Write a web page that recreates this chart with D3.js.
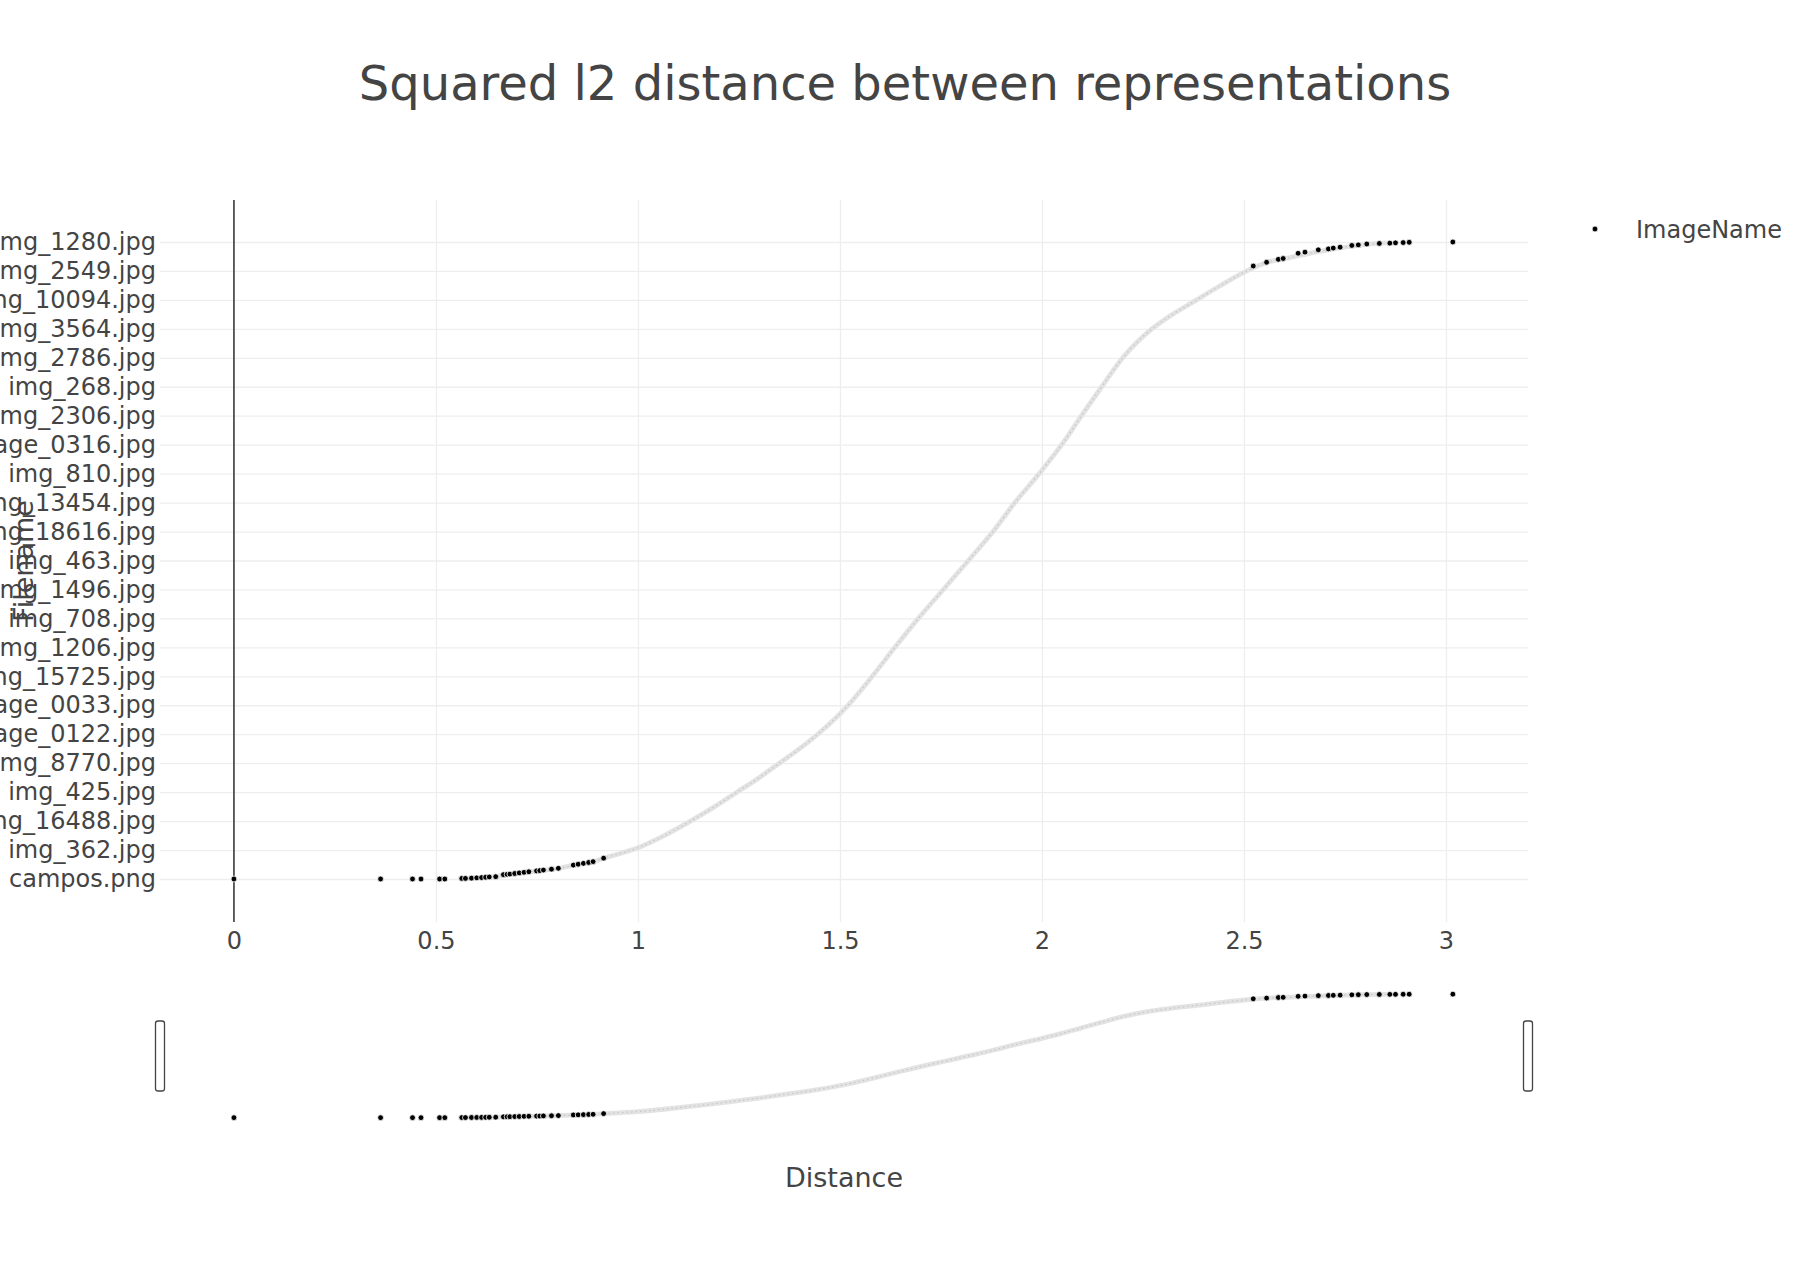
<!DOCTYPE html>
<html>
<head>
<meta charset="utf-8">
<script src="https://cdn.jsdelivr.net/npm/d3@7"></script>
<style>
  body { margin: 0; background: #fff; }
  text { font-family: "DejaVu Sans", Verdana, sans-serif; fill: #444; }
</style>
</head>
<body>
<div id="chart"></div>
<script>
// chart texts
var chartTitle = "Squared l2 distance between representations";
var xTitle = "Distance";
var yTitle = "Filename";
var legendName = "ImageName";

// y tick labels, bottom to top (one label every few hundred categories)
var yLabels = ["campos.png", "img_362.jpg", "img_16488.jpg", "img_425.jpg", "img_8770.jpg",
  "image_0122.jpg", "image_0033.jpg", "img_15725.jpg", "img_1206.jpg", "img_708.jpg",
  "img_1496.jpg", "img_463.jpg", "img_18616.jpg", "img_13454.jpg", "img_810.jpg",
  "image_0316.jpg", "img_2306.jpg", "img_268.jpg", "img_2786.jpg", "img_3564.jpg",
  "img_10094.jpg", "img_2549.jpg", "img_1280.jpg"];
var xTicks = [0, 0.5, 1, 1.5, 2, 2.5, 3];

// dense part of the sorted distances: distance and rank (in tick-label units)
var bandDist = [0.56, 0.65, 0.70, 0.75, 0.80, 0.85, 0.89, 0.92, 0.96, 1.00, 1.065, 1.13, 1.19,
  1.245, 1.30, 1.35, 1.40, 1.445, 1.52, 1.58, 1.636, 1.694, 1.756, 1.818, 1.879, 1.933, 1.993,
  2.049, 2.098, 2.148, 2.20, 2.272, 2.31, 2.383, 2.44, 2.507, 2.556, 2.614, 2.68, 2.738,
  2.804, 2.85];
var bandRank = [0.02, 0.09, 0.19, 0.28, 0.36, 0.50, 0.60, 0.74, 0.90, 1.08, 1.5, 2.0, 2.5,
  3, 3.5, 4, 4.5, 5, 6, 7, 8, 9, 10, 11, 12, 13, 14,
  15, 16, 17, 18, 19, 19.38, 20, 20.48, 21, 21.29, 21.46, 21.66, 21.8,
  21.92, 21.97];

// isolated points at the low end
var lowDist = [0, 0.363, 0.442, 0.463, 0.509, 0.522, 0.564, 0.573, 0.588, 0.601, 0.613,
  0.623, 0.632, 0.648, 0.667, 0.676, 0.683, 0.695, 0.706, 0.718, 0.73, 0.749, 0.757,
  0.766, 0.786, 0.803, 0.84, 0.852, 0.865, 0.878, 0.889, 0.915];
var lowRank = [0, 0, 0, 0, 0, 0, 0.02, 0.02, 0.03, 0.04, 0.05,
  0.06, 0.07, 0.08, 0.15, 0.16, 0.17, 0.19, 0.21, 0.23, 0.25, 0.28, 0.29,
  0.31, 0.34, 0.37, 0.48, 0.51, 0.54, 0.57, 0.60, 0.72];

// isolated points at the high end
var highDist = [2.523, 2.556, 2.585, 2.597, 2.634, 2.651, 2.684, 2.709, 2.721, 2.738,
  2.767, 2.783, 2.804, 2.835, 2.861, 2.875, 2.894, 2.909, 3.017];
var highRank = [21.17, 21.30, 21.40, 21.43, 21.61, 21.65, 21.73, 21.76, 21.79, 21.82,
  21.88, 21.90, 21.93, 21.95, 21.96, 21.97, 21.98, 21.99, 22.0];

var W = 1810, H = 1284;
var plot = { left: 160, right: 1528, top: 200, bottom: 922 };
var slider = { top: 986, bottom: 1126 };

var svg = d3.select("#chart").append("svg")
  .attr("width", W).attr("height", H);

var x = d3.scaleLinear().domain([-0.183, 3.203]).range([plot.left, plot.right]);
var y = d3.scaleLinear().domain([-1.485, 23.45]).range([plot.bottom, plot.top]);
var ys = d3.scaleLinear().domain([-1.485, 23.45]).range([slider.bottom, slider.top]);

var band = bandDist.map(function(d, i) { return { d: d, u: bandRank[i] }; });
var low = lowDist.map(function(d, i) { return { d: d, u: lowRank[i] }; });
var high = highDist.map(function(d, i) { return { d: d, u: highRank[i] }; });
var dots = low.concat(high);

// clip paths
var defs = svg.append("defs");
defs.append("clipPath").attr("id", "clipMain").append("rect")
  .attr("x", plot.left).attr("y", plot.top)
  .attr("width", plot.right - plot.left).attr("height", plot.bottom - plot.top);
defs.append("clipPath").attr("id", "clipSlider").append("rect")
  .attr("x", plot.left).attr("y", slider.top)
  .attr("width", plot.right - plot.left).attr("height", slider.bottom - slider.top);

// grid lines
svg.append("g")
  .attr("transform", "translate(0," + plot.bottom + ")")
  .call(d3.axisBottom(x).tickValues(xTicks.filter(function(t) { return t !== 0; }))
    .tickSize(-(plot.bottom - plot.top)).tickFormat(""))
  .call(function(g) {
    g.select(".domain").remove();
    g.selectAll("line").attr("stroke", "#eee").attr("stroke-width", 1.3);
  });

svg.append("g")
  .attr("transform", "translate(" + plot.left + ",0)")
  .call(d3.axisLeft(y).tickValues(d3.range(yLabels.length))
    .tickSize(-(plot.right - plot.left)).tickFormat(""))
  .call(function(g) {
    g.select(".domain").remove();
    g.selectAll("line").attr("stroke", "#eee").attr("stroke-width", 1.3);
  });

// zero line
svg.append("line")
  .attr("x1", x(0)).attr("x2", x(0))
  .attr("y1", plot.top).attr("y2", plot.bottom)
  .attr("stroke", "#444").attr("stroke-width", 1.7);

// tick labels
svg.append("g")
  .attr("transform", "translate(0," + plot.bottom + ")")
  .call(d3.axisBottom(x).tickValues(xTicks).tickSize(0).tickPadding(9.5)
    .tickFormat(function(d) { return String(d); }))
  .call(function(g) {
    g.select(".domain").remove();
    g.selectAll("text").style("font-size", "24px")
      .style("font-family", "DejaVu Sans").attr("fill", "#444");
  });

svg.append("g")
  .attr("transform", "translate(" + plot.left + ",0)")
  .call(d3.axisLeft(y).tickValues(d3.range(yLabels.length)).tickSize(0).tickPadding(4)
    .tickFormat(function(i) { return yLabels[i]; }))
  .call(function(g) {
    g.select(".domain").remove();
    g.selectAll("text").style("font-size", "24px")
      .style("font-family", "DejaVu Sans").attr("fill", "#444");
  });

// draws the trace with a given y scale
function drawTrace(parent, yScale) {
  var line = d3.line()
    .x(function(p) { return x(p.d); })
    .y(function(p) { return yScale(p.u); })
    .curve(d3.curveMonotoneX);
  parent.append("path").datum(band)
    .attr("d", line).attr("fill", "none")
    .attr("stroke", "#e3e3e3").attr("stroke-width", 4.8)
    .attr("stroke-linecap", "round");
  parent.append("path").datum(band)
    .attr("d", line).attr("fill", "none")
    .attr("stroke", "#c6c6c6").attr("stroke-width", 1.2)
    .attr("stroke-dasharray", "1.5 3");
  parent.selectAll("circle.pt").data(dots).enter().append("circle")
    .attr("class", "pt")
    .attr("cx", function(p) { return x(p.d); })
    .attr("cy", function(p) { return yScale(p.u); })
    .attr("r", 2.9)
    .attr("fill", "#000").attr("stroke", "#fff").attr("stroke-width", 0.8);
}

drawTrace(svg.append("g").attr("clip-path", "url(#clipMain)"), y);
drawTrace(svg.append("g").attr("clip-path", "url(#clipSlider)"), ys);

// range slider handles
var hh = (slider.bottom - slider.top) / 2;
[plot.left, plot.right].forEach(function(hx) {
  svg.append("rect")
    .attr("x", hx - 4.5).attr("y", slider.top + hh / 2)
    .attr("width", 9).attr("height", hh)
    .attr("rx", 2.5).attr("ry", 2.5)
    .attr("fill", "#fff").attr("stroke", "#444").attr("stroke-width", 1.3);
});

// title
svg.append("text")
  .attr("x", W / 2).attr("y", 100)
  .attr("text-anchor", "middle")
  .style("font-size", "48px")
  .text(chartTitle);

// axis titles
svg.append("text")
  .attr("x", (plot.left + plot.right) / 2).attr("y", 1187)
  .attr("text-anchor", "middle")
  .style("font-size", "27px")
  .text(xTitle);

svg.append("text")
  .attr("transform", "translate(33," + ((plot.top + plot.bottom) / 2) + ") rotate(-90)")
  .attr("text-anchor", "middle")
  .style("font-size", "27px")
  .text(yTitle);

// legend
var legend = svg.append("g").attr("transform", "translate(1595,229)");
legend.append("circle").attr("r", 2.9)
  .attr("fill", "#000").attr("stroke", "#fff").attr("stroke-width", 0.8);
legend.append("text").attr("x", 41).attr("dy", "0.36em")
  .style("font-size", "24px")
  .text(legendName);
</script>
</body>
</html>
